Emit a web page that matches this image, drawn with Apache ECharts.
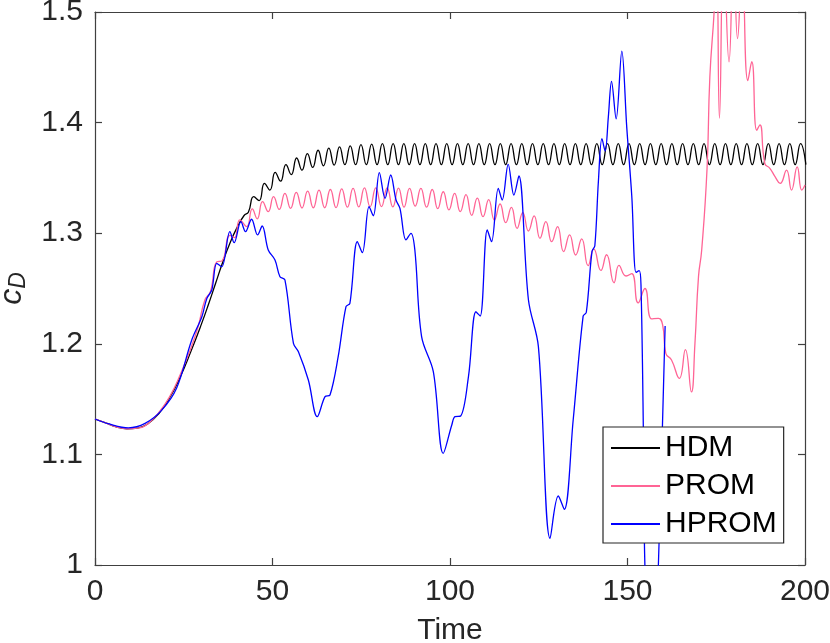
<!DOCTYPE html>
<html>
<head>
<meta charset="utf-8">
<script src="https://cdn.jsdelivr.net/npm/echarts@6/dist/echarts.min.js"></script>
<style>html,body{margin:0;padding:0;background:#fff}#c{width:830px;height:643px}</style>
</head>
<body>
<div id="c"></div>
<script>
const seriesNames = ['HDM', 'PROM', 'HPROM'];
const xTicks = {min: 0, max: 200, interval: 50};
const yTicks = {min: 1, max: 1.5, interval: 0.1};

const hdm = [
[0,1.132],[3,1.1285],[6,1.125],[9,1.1232],[12,1.1238],[15,1.128],[18,1.137],[21,1.151],[24,1.170],[27,1.193],[30,1.218],[32,1.236],[34,1.255],[36,1.274],[38,1.291],[40,1.305],[42,1.316],[43.2,1.319],
[44.72,1.333],[46.23,1.3295],[47.74,1.345],[49.25,1.339],[50.76,1.355],[52.27,1.347],[53.78,1.362],[55.29,1.353],[56.80,1.368],[58.31,1.357],[59.82,1.372],[61.33,1.3595],
[62.84,1.375],[64.35,1.361],[65.86,1.377],[67.37,1.3615],[68.88,1.378],[70.39,1.362],[71.90,1.379],[73.41,1.362],[74.92,1.380],[76.43,1.362],[77.94,1.3805],[79.45,1.362],
[80.96,1.381],[82.47,1.362],[83.98,1.381],[85.49,1.362],[87.00,1.381],[88.51,1.362],[90.02,1.381],[91.53,1.362],[93.04,1.381],[94.55,1.362],[96.06,1.381],[97.57,1.362],
[99.08,1.381],[100.59,1.362],[102.10,1.381],[103.61,1.362],[105.12,1.381],[106.63,1.362],[108.14,1.381],[109.65,1.362],[111.16,1.381],[112.67,1.362],[114.18,1.381],[115.69,1.362],
[117.20,1.381],[118.71,1.362],[120.22,1.381],[121.73,1.362],[123.24,1.381],[124.75,1.362],[126.26,1.381],[127.77,1.362],[129.28,1.381],[130.79,1.362],[132.30,1.381],[133.81,1.362],
[135.32,1.381],[136.83,1.362],[138.34,1.381],[139.85,1.362],[141.36,1.381],[142.87,1.362],[144.38,1.381],[145.89,1.362],[147.40,1.381],[148.91,1.362],[150.42,1.381],[151.93,1.362],
[153.44,1.381],[154.95,1.362],[156.46,1.381],[157.97,1.362],[159.48,1.381],[160.99,1.362],[162.50,1.381],[164.01,1.362],[165.52,1.381],[167.03,1.362],[168.54,1.381],[170.05,1.362],
[171.56,1.381],[173.07,1.362],[174.58,1.381],[176.09,1.362],[177.60,1.381],[179.11,1.362],[180.62,1.381],[182.13,1.362],[183.64,1.381],[185.15,1.362],[186.66,1.381],[188.17,1.362],
[189.68,1.381],[191.19,1.362],[192.70,1.381],[194.21,1.362],[195.72,1.381],[197.23,1.362],[198.74,1.381],[200.25,1.362]
];

const prom = [
[0,1.132],[3,1.1285],[6,1.125],[9,1.1232],[12,1.1238],[15,1.128],[18,1.138],[21,1.152],[24,1.172],[27,1.196],[29,1.215],[31,1.240],[32.5,1.247],[34.3,1.274],[35.8,1.275],[38,1.298],[39.3,1.296],[40.8,1.312],[42.7,1.306],
[44.3,1.322],[45.7,1.313],[47.2,1.3285],[48.8,1.3195],[50.3,1.333],[51.9,1.3215],[53.5,1.336],[55.1,1.3225],[56.7,1.337],[58.3,1.3228],[59.9,1.338],[61.5,1.323],
[63.1,1.339],[64.7,1.323],[66.3,1.3395],[67.9,1.3232],[69.5,1.340],[71.1,1.3235],[72.7,1.3405],[74.3,1.3238],[75.9,1.341],[77.5,1.324],[79.1,1.341],[80.7,1.324],
[82.3,1.341],[83.9,1.3238],[85.5,1.3408],[87.05,1.3235],[88.6,1.3406],[90.2,1.3245],[91.8,1.3405],[93.4,1.3235],[95.0,1.3395],[96.55,1.3222],[98.1,1.3375],[99.7,1.321],
[101.3,1.336],[102.9,1.3195],[104.5,1.3348],[106.1,1.3162],[107.7,1.3318],[109.3,1.3149],[110.9,1.3303],[112.5,1.3119],[114.1,1.3264],[115.7,1.3095],[117.3,1.3234],[118.9,1.3044],
[120.5,1.3186],[122.1,1.302],[123.7,1.3156],[125.35,1.2954],[127.0,1.3104],[128.65,1.2923],[130.3,1.3059],[132.0,1.2833],[133.7,1.2984],[135.4,1.2803],[137.1,1.2948],[138.9,1.2706],
[140.5,1.2858],[142.5,1.2663],[144.1,1.2805],[146.2,1.2552],[147.6,1.2709],[149.6,1.2613],[151.2,1.2635],[153.0,1.237],[154.9,1.250],
[156.8,1.2225],[158.7,1.223],[159.9,1.217],[160.8,1.1914],[162.4,1.1854],[164.6,1.1688],[166.3,1.1947],[168.0,1.1565],[169.0,1.2004],[170.0,1.2607],[170.9,1.2848],[172.4,1.358],[173.2,1.4415],
[174.4,1.50],[175.1,1.55],[175.9,1.404],[177.1,1.56],[178.6,1.455],[179.9,1.56],[181.0,1.476],[182.3,1.54],[183.9,1.438],[185.0,1.455],[186.4,1.393],[187.3,1.398],[188.7,1.363],
[190.1,1.3587],[191.6,1.351],[193.0,1.345],[194.8,1.357],[196.2,1.339],[197.8,1.360],[199.1,1.339],[200,1.3436]
];

const hprom = [
[0,1.132],[4,1.1275],[9.4,1.124],[14.1,1.128],[18.8,1.140],[23,1.160],[27.2,1.203],[30.1,1.2245],[31.5,1.241],[32.9,1.2486],[34.3,1.2728],[35.7,1.2697],[38.0,1.3014],[39.2,1.2914],
[41.1,1.3104],[42.4,1.3014],[44.1,1.3126],[45.8,1.2984],[47.1,1.3065],[48.8,1.2848],[50.7,1.2758],[52.1,1.2607],[53.5,1.2577],[55.9,1.2004],[57.3,1.1929],[60.1,1.1673],[62.6,1.1341],
[64.8,1.1522],[66.2,1.1537],[68.5,1.1883],[70.7,1.2336],[71.8,1.2366],[73.9,1.2924],[75.3,1.2824],[77.2,1.324],[78.4,1.3158],[80.1,1.3547],[81.7,1.3315],[83.3,1.3526],[84.8,1.330],
[85.9,1.3225],[87.6,1.2939],[89.0,1.2999],[90.1,1.2848],[92.0,1.2064],[95.3,1.1748],[98.1,1.101],[100.5,1.1266],[101.4,1.1341],[103.0,1.1347],[105.2,1.1703],[107.3,1.229],[108.5,1.2251],
[110.5,1.3029],[111.7,1.2923],[113.6,1.3406],[114.7,1.330],[116.4,1.3623],[118.0,1.3345],[119.4,1.3517],[122.1,1.2396],[124.9,1.1974],[128.2,1.0241],[130.5,1.0624],[132.2,1.0503],
[134.7,1.1311],[137.5,1.2250],[138.4,1.2285],[140.0,1.2835],[140.8,1.2887],[141.8,1.3468],[142.8,1.3855],[143.7,1.3743],[144.6,1.405],[145.5,1.4373],[146.8,1.4034],[148.4,1.4647],
[149.8,1.3952],[151.2,1.3339],[152.4,1.2645],[153.3,1.2661],[153.8,1.2532],[154.5,1.1143],[154.9,1.0],[156.8,0.85],[158.7,1.0],[160.6,1.216]
];

const FONT = '"Liberation Sans", Arial, Helvetica, sans-serif';
const AX = '#404040';
const FS = 30;
const chart = echarts.init(document.getElementById('c'), null, {renderer: 'canvas'});

function xAxisCfg(pos, show) {
  return {type: 'value', position: pos, min: xTicks.min, max: xTicks.max, interval: xTicks.interval,
    axisLine: {show: true, onZero: false, lineStyle: {color: AX, width: 1.2}},
    axisTick: {show: true, inside: true, length: 7, lineStyle: {color: AX, width: 1.2}},
    axisLabel: {show: show, margin: 12, fontSize: FS, color: '#262626', fontFamily: FONT},
    splitLine: {show: false}};
}
function yAxisCfg(pos, show) {
  return {type: 'value', position: pos, min: yTicks.min, max: yTicks.max, interval: yTicks.interval,
    axisLine: {show: true, onZero: false, lineStyle: {color: AX, width: 1.2}},
    axisTick: {show: true, inside: true, length: 7, lineStyle: {color: AX, width: 1.2}},
    axisLabel: {show: show, margin: 12, fontSize: FS, color: '#262626', fontFamily: FONT},
    splitLine: {show: false}};
}

const xa = xAxisCfg('bottom', true);
xa.name = 'Time'; xa.nameLocation = 'middle'; xa.nameGap = 51;
xa.nameTextStyle = {fontSize: FS, color: '#262626', fontFamily: FONT};
const ya = yAxisCfg('left', true);
ya.name = '{c|c}{d|D}'; ya.nameLocation = 'middle'; ya.nameGap = 46; ya.nameRotate = 90;
ya.nameTextStyle = {color: '#262626', fontFamily: FONT, rich: {
  c: {fontSize: 32, fontStyle: 'italic', color: '#262626', fontFamily: FONT},
  d: {fontSize: 23, fontStyle: 'italic', color: '#262626', fontFamily: FONT, verticalAlign: 'bottom', padding: [14, 0, 0, 0]}
}};

const colors = ['#000000', '#ff6495', '#0000ff'];
const datasets = [hdm, prom, hprom];

chart.setOption({
  animation: false,
  backgroundColor: '#fff',
  grid: {left: 95, right: 25, top: 12, bottom: 78, containLabel: false, outerBoundsMode: 'none'},
  xAxis: [xa, xAxisCfg('top', false)],
  yAxis: [ya, yAxisCfg('right', false)],
  legend: {
    orient: 'vertical', left: 603, top: 427, backgroundColor: '#fff',
    borderColor: '#262626', borderWidth: 1.2, borderRadius: 0,
    padding: [6, 7, 4, 7], itemGap: 8, itemWidth: 49, itemHeight: 14,
    itemStyle: {opacity: 0, borderWidth: 0},
    textStyle: {fontSize: FS, color: '#000', fontFamily: FONT},
    data: seriesNames
  },
  series: seriesNames.map((n, i) => ({
    name: n, type: 'line', data: datasets[i], xAxisIndex: 0, yAxisIndex: 0,
    showSymbol: false, symbol: 'none', smooth: i === 2 ? 0.35 : 0.5, clip: true,
    lineStyle: {color: colors[i], width: 1.3}, itemStyle: {color: colors[i]}
  }))
});
</script>
</body>
</html>
